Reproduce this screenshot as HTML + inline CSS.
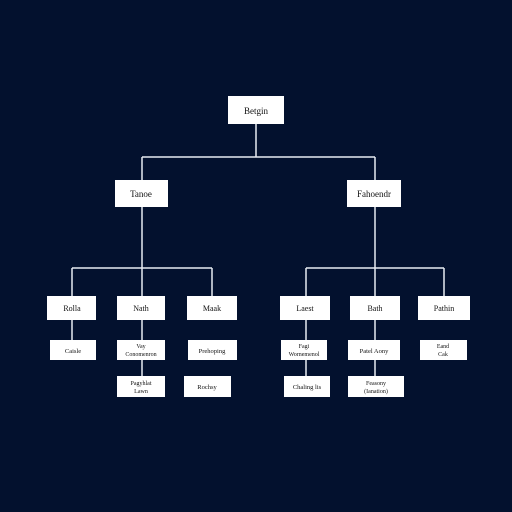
<!DOCTYPE html>
<html><head><style>body{margin:0;background:#03112e}svg{display:block}</style></head><body>
<svg width="512" height="512" viewBox="0 0 512 512">
<rect width="512" height="512" fill="#03112e"/>
<g stroke="#e8ecf2" stroke-width="1.5" fill="none">
<line x1="256" y1="124" x2="256" y2="157"/>
<line x1="142" y1="157" x2="375" y2="157"/>
<line x1="142" y1="157" x2="142" y2="180"/>
<line x1="375" y1="157" x2="375" y2="180"/>
<line x1="142" y1="207" x2="142" y2="296"/>
<line x1="72" y1="268" x2="212" y2="268"/>
<line x1="72" y1="268" x2="72" y2="296"/>
<line x1="212" y1="268" x2="212" y2="296"/>
<line x1="375" y1="207" x2="375" y2="296"/>
<line x1="306" y1="268" x2="444" y2="268"/>
<line x1="306" y1="268" x2="306" y2="296"/>
<line x1="444" y1="268" x2="444" y2="296"/>
<line x1="72" y1="320" x2="72" y2="340"/>
<line x1="142" y1="320" x2="142" y2="376"/>
<line x1="306" y1="320" x2="306" y2="376"/>
<line x1="375" y1="320" x2="375" y2="376"/>
</g>
<g fill="#ffffff">
<rect x="228" y="96" width="56" height="28"/>
<rect x="115" y="180" width="53" height="27"/>
<rect x="347" y="180" width="54" height="27"/>
<rect x="47" y="296" width="49" height="24"/>
<rect x="117" y="296" width="48" height="24"/>
<rect x="187" y="296" width="50" height="24"/>
<rect x="280" y="296" width="50" height="24"/>
<rect x="350" y="296" width="50" height="24"/>
<rect x="418" y="296" width="52" height="24"/>
<rect x="50" y="340" width="46" height="20"/>
<rect x="117" y="340" width="48" height="20"/>
<rect x="188" y="340" width="49" height="20"/>
<rect x="281" y="340" width="46" height="20"/>
<rect x="348" y="340" width="52" height="20"/>
<rect x="420" y="340" width="47" height="20"/>
<rect x="117" y="376" width="48" height="21"/>
<rect x="184" y="376" width="47" height="21"/>
<rect x="284" y="376" width="46" height="21"/>
<rect x="348" y="376" width="56" height="21"/>
</g>
<g font-family="Liberation Serif, serif" fill="#111" text-anchor="middle">
<text x="256" y="114" font-size="9">Betgin</text>
<text x="141" y="197" font-size="9">Tanoe</text>
<text x="374" y="197" font-size="9">Fahoendr</text>
<text x="72" y="311" font-size="8">Rolla</text>
<text x="141" y="311" font-size="8">Nath</text>
<text x="212" y="311" font-size="8">Maak</text>
<text x="305" y="311" font-size="8">Laest</text>
<text x="375" y="311" font-size="8">Bath</text>
<text x="444" y="311" font-size="8">Pathin</text>
<text x="73" y="353" font-size="6.5">Caisle</text>
<text x="141" y="348" font-size="6">Vay</text>
<text x="141" y="356" font-size="6">Conomenron</text>
<text x="212" y="353" font-size="6.5">Prehoping</text>
<text x="304" y="348" font-size="6">Fagi</text>
<text x="304" y="356" font-size="6">Wornemenol</text>
<text x="374" y="353" font-size="6.5">Patel Aony</text>
<text x="443" y="348" font-size="6">Eand</text>
<text x="443" y="356" font-size="6">Cak</text>
<text x="141" y="385" font-size="6">Pagyhlat</text>
<text x="141" y="393" font-size="6">Lawn</text>
<text x="207" y="389" font-size="6.5">Rochsy</text>
<text x="307" y="389" font-size="6.5">Chaling lis</text>
<text x="376" y="385" font-size="6">Feasony</text>
<text x="376" y="393" font-size="6">(Ianation)</text>
</g>
</svg>
</body></html>
